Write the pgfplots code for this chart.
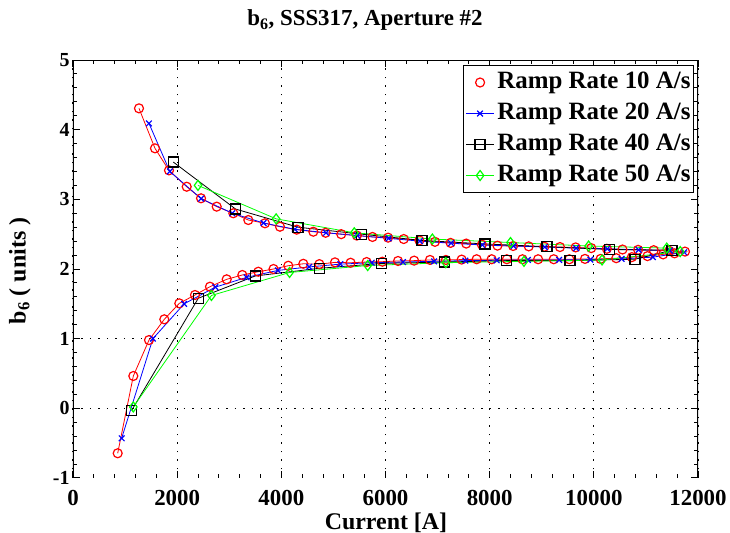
\documentclass[border=0pt]{standalone}
\usepackage{fontspec}
\setmainfont{Liberation Serif}
\usepackage{pgfplots}
\pgfplotsset{compat=1.18}
\begin{document}
\begin{tikzpicture}
\useasboundingbox (-73bp,-55bp) rectangle (657bp,478bp);
\begin{axis}[
 at={(0,0)}, anchor=south west,
 scale only axis, width=625bp, height=418bp,
 xmin=0, xmax=12000, ymin=-1, ymax=5,
 xtick={0,2000,...,12000}, ytick={-1,0,...,5},
 scaled x ticks=false, scaled y ticks=false,
 minor x tick num=4, minor y tick num=4,
 major tick length=7bp, minor tick length=4bp,
 tick style={black, line width=1bp},
 xmajorgrids, grid style={black, line width=1bp, dash pattern=on 1.5bp off 7bp},
 extra y ticks={0,1}, extra y tick labels={}, extra y tick style={grid=major, major tick length=0bp},
 axis line style={draw=none},
 /pgf/number format/assume math mode=true,
 /pgf/number format/1000 sep={},
 xticklabel style={font=\fontsize{23}{23}\selectfont\bfseries, anchor=base, inner sep=0bp, yshift=-28bp},
 yticklabel style={font=\fontsize{20}{20}\selectfont\bfseries},
 legend image code/.code={\draw[mark repeat=2,mark phase=2,#1] plot coordinates {(0bp,0bp) (14bp,0bp) (28bp,0bp)};},
 legend cell align=left,
 legend style={at={(1,1)}, anchor=north east, xshift=-4bp, yshift=-5bp,
   font=\fontsize{25}{28}\selectfont\bfseries, draw=black, line width=1bp,
   inner xsep=2bp, inner ysep=4bp, row sep=5bp, column sep=2bp,
   nodes={inner sep=1bp, text height=18bp, text depth=6bp}},
]
\addlegendimage{red, only marks, mark=o, mark size=4.5bp, line width=1.2bp}
\addlegendimage{blue, line width=0.8bp, mark=x, mark size=4bp, mark options={line width=1.2bp}}
\addlegendimage{black, line width=0.8bp, mark=square, mark size=5bp, mark options={line width=1.2bp}}
\addlegendimage{green, line width=0.8bp, mark=diamond, mark size=5bp, mark options={line width=1.2bp}}
\legend{Ramp Rate 10 A/s, Ramp Rate 20 A/s, Ramp Rate 40 A/s, Ramp Rate 50 A/s}

% 10 A/s
\addplot[forget plot, red, line width=0.8bp, mark=o, mark size=4.5bp, mark options={line width=1.2bp}] coordinates {
(858,-0.645) (1158,0.464) (1459,0.98) (1753,1.278) (2041,1.507) (2342,1.627) (2630,1.746) (2951,1.852) (3251,1.914) (3558,1.961) (3850,2.00) (4134,2.047) (4422,2.075) (4730,2.07) (5030,2.095) (5330,2.09) (5638,2.10) (5940,2.105) (6240,2.115) (6550,2.12) (6854,2.13) (7160,2.13) (7462,2.135) (7750,2.14) (8038,2.14) (8330,2.14) (8630,2.14) (8930,2.14) (9230,2.14) (9530,2.14) (9830,2.145) (10130,2.145) (10430,2.155) (10730,2.17) (11030,2.185) (11330,2.21) (11550,2.225) (11750,2.25)
(11450,2.26) (11150,2.27) (10850,2.275) (10550,2.28) (10250,2.29) (9950,2.30) (9650,2.31) (9350,2.315) (9050,2.32) (8750,2.325) (8450,2.33) (8150,2.335) (7850,2.35) (7550,2.365) (7250,2.375) (6950,2.39) (6650,2.41) (6350,2.43) (6050,2.45) (5750,2.46) (5450,2.48) (5150,2.50) (4850,2.52) (4614,2.535) (4295,2.565) (3974,2.607) (3686,2.656) (3366,2.703) (3078,2.80) (2759,2.895) (2458,3.015) (2183,3.181) (1843,3.416) (1574,3.732) (1267,4.306)
};
% 20 A/s
\addplot[forget plot, blue, line width=0.8bp, mark=x, mark size=4bp, mark options={line width=1.2bp}] coordinates {
(934,-0.43) (1534,1.0) (2134,1.5) (2734,1.74) (3334,1.88) (3934,1.98) (4534,2.03) (5134,2.07) (5734,2.09) (6334,2.10) (6934,2.11) (7534,2.12) (8134,2.125) (8734,2.13) (9334,2.13) (9934,2.135) (10534,2.145) (11134,2.17) (11734,2.24)
(11459,2.265) (10859,2.275) (10259,2.29) (9659,2.30) (9059,2.315) (8459,2.33) (7859,2.345) (7259,2.37) (6659,2.40) (6059,2.44) (5459,2.48) (4859,2.52) (4259,2.57) (3659,2.66) (3059,2.80) (2459,3.01) (1859,3.40) (1459,4.09)
};
% 40 A/s
\addplot[forget plot, black, line width=0.8bp, mark=square, mark size=5bp, mark options={line width=1.2bp}] coordinates {
(1126,-0.03) (2406,1.58) (3500,1.90) (4726,2.01) (5926,2.08) (7126,2.10) (8326,2.12) (9542,2.12) (10790,2.14) (11500,2.27)
(10300,2.28) (9100,2.32) (7910,2.36) (6700,2.41) (5540,2.50) (4320,2.60) (3123,2.86) (1926,3.535)
};
% 50 A/s
\addplot[forget plot, green, line width=0.8bp, mark=diamond, mark size=5bp, mark options={line width=1.2bp}] coordinates {
(1158,0.02) (2658,1.62) (4158,1.95) (5658,2.05) (7158,2.09) (8658,2.11) (10158,2.13) (11658,2.25)
(11400,2.30) (9900,2.33) (8400,2.38) (6900,2.43) (5400,2.52) (3900,2.72) (2400,3.20)
};
\draw[black, line width=2bp] (rel axis cs:0,0) -- (rel axis cs:0,1);
\draw[black, line width=2bp] (rel axis cs:1,0) -- (rel axis cs:1,1);
\draw[black, line width=1bp] (rel axis cs:0,1) -- (rel axis cs:1,1);
\end{axis}
\node[anchor=base, font=\fontsize{23}{26}\selectfont\bfseries] at (292bp,452bp) {b\textsubscript{6}, SSS317, Aperture \#2};
\node[rotate=90, font=\fontsize{24}{28}\selectfont\bfseries] at (-53bp,207bp) {b\textsubscript{6} ( units )};
\node[anchor=base, inner sep=0bp, font=\fontsize{24}{28}\selectfont\bfseries] at (313bp,-51bp) {Current [A]};
\end{tikzpicture}
\end{document}
